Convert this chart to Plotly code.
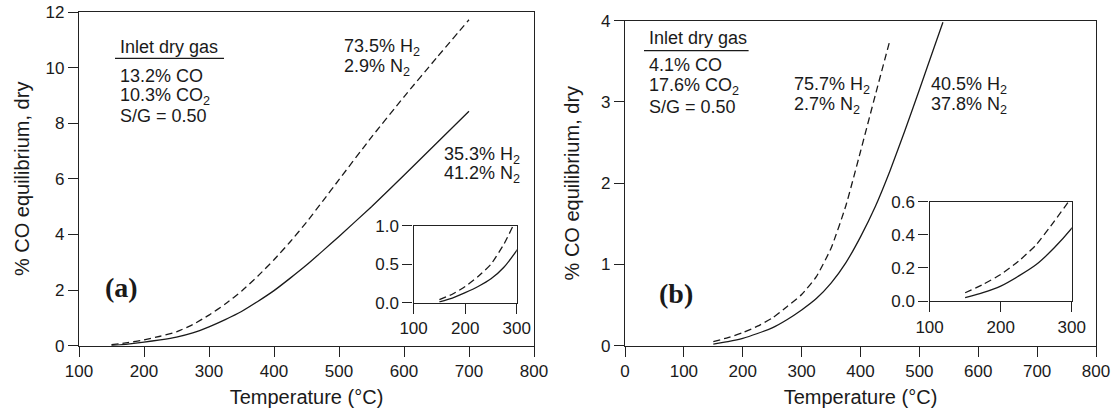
import plotly.graph_objects as go

# ---- data ----
temp_a = [150, 175, 200, 225, 250, 275, 300, 325, 350, 375, 400, 425, 450, 475, 500, 550, 600, 650, 700]
co_a_high_h2 = [0.04, 0.11, 0.21, 0.34, 0.50, 0.76, 1.10, 1.50, 1.96, 2.50, 3.09, 3.74, 4.44, 5.20, 5.97, 7.50, 8.95, 10.35, 11.72]
co_a_low_h2 = [0.01, 0.06, 0.13, 0.21, 0.31, 0.46, 0.68, 0.94, 1.23, 1.59, 1.98, 2.43, 2.90, 3.41, 3.93, 5.00, 6.13, 7.28, 8.43]

temp_b_high = [150, 175, 200, 225, 250, 275, 300, 325, 350, 375, 400, 425, 450]
co_b_high_h2 = [0.05, 0.10, 0.16, 0.24, 0.34, 0.48, 0.63, 0.85, 1.20, 1.72, 2.39, 3.08, 3.76]
temp_b_low = [150, 175, 200, 225, 250, 275, 300, 325, 350, 375, 400, 425, 450, 475, 500, 525, 540]
co_b_low_h2 = [0.02, 0.05, 0.09, 0.15, 0.22, 0.32, 0.44, 0.58, 0.77, 1.02, 1.34, 1.71, 2.15, 2.64, 3.15, 3.67, 3.98]

x_ticks_a = [100, 200, 300, 400, 500, 600, 700, 800]
y_ticks_a = [0, 2, 4, 6, 8, 10, 12]
x_ticks_b = [0, 100, 200, 300, 400, 500, 600, 700, 800]
y_ticks_b = [0, 1, 2, 3, 4]
inset_x_ticks = [100, 200, 300]
inset_y_ticks_a = [0.0, 0.5, 1.0]
inset_y_ticks_b = [0.0, 0.2, 0.4, 0.6]

W, H = 1117, 414
FONT = "Liberation Sans"
TXT = "#1a1a1a"
AX = "#222222"

def px(x):
    return x / W

def py(y):
    return 1 - y / H

fig = go.Figure()

line_solid = dict(color="#1a1a1a", width=1.3, shape="spline", smoothing=0.5)
line_dash = dict(color="#1a1a1a", width=1.3, shape="spline", smoothing=0.5, dash="7px,4px")

# panel (a) main
fig.add_trace(go.Scatter(x=temp_a, y=co_a_high_h2, mode="lines", line=line_dash, xaxis="x", yaxis="y", showlegend=False))
fig.add_trace(go.Scatter(x=temp_a, y=co_a_low_h2, mode="lines", line=line_solid, xaxis="x", yaxis="y", showlegend=False))
# panel (a) inset
fig.add_trace(go.Scatter(x=temp_a, y=co_a_high_h2, mode="lines", line=line_dash, xaxis="x3", yaxis="y3", showlegend=False))
fig.add_trace(go.Scatter(x=temp_a, y=co_a_low_h2, mode="lines", line=line_solid, xaxis="x3", yaxis="y3", showlegend=False))
# panel (b) main
fig.add_trace(go.Scatter(x=temp_b_high, y=co_b_high_h2, mode="lines", line=line_dash, xaxis="x2", yaxis="y2", showlegend=False))
fig.add_trace(go.Scatter(x=temp_b_low, y=co_b_low_h2, mode="lines", line=line_solid, xaxis="x2", yaxis="y2", showlegend=False))
# panel (b) inset
fig.add_trace(go.Scatter(x=temp_b_high, y=co_b_high_h2, mode="lines", line=line_dash, xaxis="x4", yaxis="y4", showlegend=False))
fig.add_trace(go.Scatter(x=temp_b_low, y=co_b_low_h2, mode="lines", line=line_solid, xaxis="x4", yaxis="y4", showlegend=False))

def axis(domain, rng, ticks, anchor, title=None, fmt=None, standoff=None, tsize=17):
    d = dict(domain=domain, range=rng, tickvals=ticks, anchor=anchor,
             showgrid=False, zeroline=False, showline=True, linecolor=AX, linewidth=1.4,
             mirror=True, ticks="outside", ticklen=10, tickwidth=1.3, tickcolor=AX,
             tickfont=dict(family=FONT, size=tsize, color=TXT), automargin=False,
             ticklabeloverflow="allow")
    if fmt:
        d["tickformat"] = fmt
    if title:
        d["title"] = dict(text=title, font=dict(family=FONT, size=20, color=TXT), standoff=standoff)
    return d

fig.update_layout(
    width=W, height=H,
    margin=dict(l=0, r=0, t=0, b=0),
    paper_bgcolor="white", plot_bgcolor="white",
    hovermode=False,
    xaxis=axis([px(79), px(534)], [100, 800], x_ticks_a, "y", "Temperature (°C)", standoff=9),
    yaxis=axis([py(345.7), py(12)], [0, 12], y_ticks_a, "x", "% CO equilibrium, dry", standoff=10),
    xaxis2=axis([px(625), px(1096)], [0, 800], x_ticks_b, "y2", "Temperature (°C)", standoff=9),
    yaxis2=axis([py(345.7), py(20.7)], [0, 4], y_ticks_b, "x2", "% CO equilibrium, dry", standoff=15),
    xaxis3=axis([px(413.6), px(516.8)], [100, 300], inset_x_ticks, "y3"),
    yaxis3=axis([py(302.7), py(225.7)], [0, 1], inset_y_ticks_a, "x3", fmt=".1f"),
    xaxis4=axis([px(929.6), px(1071.8)], [100, 300], inset_x_ticks, "y4"),
    yaxis4=axis([py(301), py(201.7)], [0, 0.6], inset_y_ticks_b, "x4", fmt=".1f"),
)

def note(text, x, y, size=18, family=FONT, bold=False):
    if bold:
        text = "<b>" + text + "</b>"
    fig.add_annotation(text=text, x=px(x), y=py(y), xref="paper", yref="paper",
                       xanchor="left", yanchor="middle", showarrow=False,
                       font=dict(family=family, size=size, color=TXT))

# panel (a) labels
note("Inlet dry gas", 118, 47)
fig.add_shape(type="line", xref="paper", yref="paper", x0=px(115), x1=px(224), y0=py(58.3), y1=py(58.3),
              line=dict(color=TXT, width=1.3))
note("13.2% CO", 118, 76)
note("10.3% CO<sub>2</sub>", 118, 96)
note("S/G = 0.50", 118, 116)
note("73.5% H<sub>2</sub>", 342, 47)
note("2.9% N<sub>2</sub>", 342, 67)
note("35.3% H<sub>2</sub>", 442, 155)
note("41.2% N<sub>2</sub>", 442, 174)
note("(a)", 103, 287, size=28, family="Liberation Serif", bold=True)

# panel (b) labels
note("Inlet dry gas", 647, 38)
fig.add_shape(type="line", xref="paper", yref="paper", x0=px(644), x1=px(748.6), y0=py(50.7), y1=py(50.7),
              line=dict(color=TXT, width=1.3))
note("4.1% CO", 647, 65)
note("17.6% CO<sub>2</sub>", 647, 86)
note("S/G = 0.50", 647, 107)
note("75.7% H<sub>2</sub>", 792, 85)
note("2.7% N<sub>2</sub>", 792, 105)
note("40.5% H<sub>2</sub>", 929, 85)
note("37.8% N<sub>2</sub>", 929, 105)
note("(b)", 657, 293, size=28, family="Liberation Serif", bold=True)

fig.write_html(
    "out.html",
    config={"displayModeBar": False},
    post_script="document.body.style.margin='0';document.body.style.overflow='hidden';",
)
